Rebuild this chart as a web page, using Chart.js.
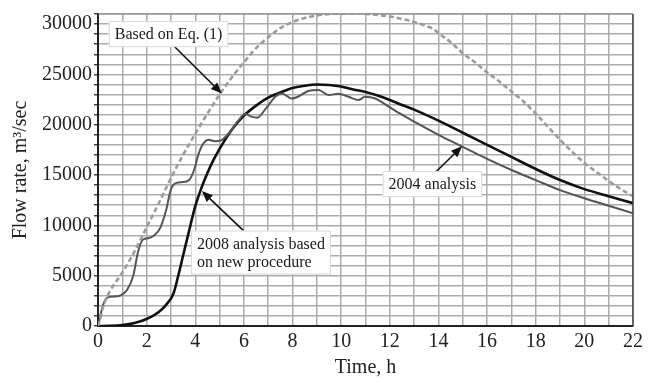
<!DOCTYPE html>
<html><head><meta charset="utf-8">
<script src="https://cdn.jsdelivr.net/npm/chart.js@4/dist/chart.umd.min.js"></script>
<style>html,body{margin:0;padding:0;background:#fff}#wrap{width:657px;height:380px}</style>
</head><body><div id="wrap"><canvas id="c" width="657" height="380"></canvas></div>
<script>
// ---- Data ----
const eqTime = [0,0.1,0.2,0.35,0.6,1,1.5,2,2.5,3,3.5,4,4.5,5,5.5,6,6.5,7,7.5,8,8.5,9,9.5,10,10.5,11,11.5,12,12.5,13,13.5,13.8,14,14.5,15,15.5,16,16.5,17,17.5,18,18.5,19,19.5,20,20.5,21,21.5,22];
const eqFlow = [0,800,1800,2800,3900,5300,7400,9800,12200,14700,17000,19100,21100,23000,24700,26200,27600,28700,29600,30200,30600,30850,31000,31050,31050,31000,30900,30750,30500,30200,29800,29500,29100,28200,27100,26200,25200,24300,23300,22300,21100,19800,18500,17300,16200,15300,14400,13600,12900];

const a2004Time = [0,0.15,0.3,0.5,0.8,1.0,1.2,1.45,1.65,1.85,2.1,2.3,2.55,2.8,3.0,3.2,3.5,3.75,3.95,4.15,4.35,4.55,4.8,5.1,5.4,5.8,6.05,6.3,6.55,6.9,7.3,7.56,7.97,8.24,8.6,9.07,9.48,9.89,10.3,10.71,10.99,11.4,11.95,12.5,13,14,15,16,17,18,19,20,21,22];
const a2004Flow = [0,1600,2600,2900,2950,3150,3600,5000,7400,8600,8750,9000,9700,11500,13600,14200,14300,14500,15500,17200,18200,18500,18350,18500,19200,20500,21100,20800,20700,21600,22800,23100,22600,22800,23300,23440,22950,23080,22780,22450,22780,22600,21800,21000,20300,19000,17800,16600,15500,14500,13500,12700,11950,11200];

const a2008Time = [0,0.5,1,1.5,2,2.5,2.8,3.1,3.3,3.5,3.75,4,4.25,4.5,4.75,5,5.5,6,6.5,7,7.5,8,8.5,9,9.5,10,10.5,11,11.5,12,12.5,13,14,15,16,17,18,19,20,21,22];
const a2008Flow = [0,20,100,300,700,1400,2100,3200,5000,7000,9500,11900,13700,15200,16500,17600,19500,20900,21900,22700,23200,23650,23870,24000,23950,23800,23500,23250,22900,22450,21950,21500,20400,19200,18000,16800,15600,14500,13600,12900,12200];

const xTicks = [0,2,4,6,8,10,12,14,16,18,20,22];
const yTicks = [0,5000,10000,15000,20000,25000,30000];

// annotation labels, arrow start and arrow tip (data units)
const noteText = [["Based on Eq. (1)"], ["2008 analysis based","on new procedure"], ["2004 analysis"]];
const noteAt   = [[2.9, 29000], [6.7, 7300], [13.75, 14100]];
const arrowFrom = [[3.03, 28040], [5.98, 9470], [13.87, 15250]];
const arrowTo   = [[5.09, 23100], [4.27, 13410], [14.97, 17850]];

function pts(t, v){ return t.map((x,i)=>({x:x, y:v[i]})); }

const SERIF = "'Liberation Serif','Times New Roman',serif";

const framePlugin = {
  id:'frame',
  beforeDraw(chart){
    const ctx = chart.ctx; ctx.save(); ctx.fillStyle='#fff'; ctx.fillRect(0,0,chart.width,chart.height); ctx.restore();
  },
  afterDraw(chart){
    const {ctx, chartArea:a, scales} = chart;
    const xs = scales.x, ys = scales.y;
    ctx.save();
    // right & top frame
    ctx.strokeStyle='#444'; ctx.lineWidth=1.5;
    ctx.beginPath(); ctx.moveTo(a.right, a.top); ctx.lineTo(a.right, a.bottom); ctx.stroke();
    ctx.strokeStyle='#888'; ctx.lineWidth=1.2;
    ctx.beginPath(); ctx.moveTo(a.left, a.top); ctx.lineTo(a.right, a.top); ctx.stroke();
    // arrows
    for (let i=0;i<arrowFrom.length;i++){
      const x1=xs.getPixelForValue(arrowFrom[i][0]), y1=ys.getPixelForValue(arrowFrom[i][1]);
      const x2=xs.getPixelForValue(arrowTo[i][0]), y2=ys.getPixelForValue(arrowTo[i][1]);
      const ang=Math.atan2(y2-y1,x2-x1), L=11, W=4.5;
      const bx=x2-L*Math.cos(ang), by=y2-L*Math.sin(ang);
      ctx.strokeStyle='#111'; ctx.fillStyle='#111'; ctx.lineWidth=1.6;
      ctx.beginPath(); ctx.moveTo(x1,y1); ctx.lineTo(bx,by); ctx.stroke();
      ctx.beginPath(); ctx.moveTo(x2,y2);
      ctx.lineTo(bx+W*Math.sin(ang), by-W*Math.cos(ang));
      ctx.lineTo(bx-W*Math.sin(ang), by+W*Math.cos(ang));
      ctx.closePath(); ctx.fill();
    }
    // label boxes
    ctx.font = "16px " + SERIF;
    ctx.textBaseline='middle'; ctx.textAlign='left';
    for (let i=0;i<noteText.length;i++){
      const lines = noteText[i];
      const cx=xs.getPixelForValue(noteAt[i][0]), cy=ys.getPixelForValue(noteAt[i][1]);
      const w=Math.max(...lines.map(s=>ctx.measureText(s).width));
      const lh=18, h=lines.length*lh;
      const padX=6, padY=4;
      const bx=cx-w/2-padX, by=cy-h/2-padY, bw=w+2*padX, bh=h+2*padY;
      ctx.fillStyle='#fff'; ctx.fillRect(bx,by,bw,bh);
      ctx.strokeStyle='#d8d8d8'; ctx.lineWidth=1; ctx.strokeRect(bx+0.5,by+0.5,bw-1,bh-1);
      ctx.fillStyle='#1a1a1a';
      lines.forEach((s,k)=>ctx.fillText(s, cx-w/2, cy-h/2+lh/2+k*lh+1));
    }
    ctx.restore();
  }
};

new Chart(document.getElementById('c'), {
  type:'line',
  data:{ datasets:[
    {label:'Based on Eq. (1)', data:pts(eqTime,eqFlow), borderColor:'#9c9c9c', borderWidth:2.6, borderDash:[5,3], pointRadius:0, cubicInterpolationMode:'monotone', fill:false},
    {label:'2004 analysis', data:pts(a2004Time,a2004Flow), borderColor:'#555', borderWidth:2, pointRadius:0, cubicInterpolationMode:'monotone', fill:false},
    {label:'2008 analysis', data:pts(a2008Time,a2008Flow), borderColor:'#111', borderWidth:2.6, pointRadius:0, cubicInterpolationMode:'monotone', fill:false}
  ]},
  options:{
    responsive:false, animation:false, devicePixelRatio:1,
    layout:{padding:{top:12,right:24,left:0,bottom:0}},
    plugins:{legend:{display:false}, tooltip:{enabled:false}},
    scales:{
      x:{type:'linear', min:0, max:22,
        afterFit(s){ s.height=54; },
        ticks:{stepSize:1, autoSkip:false, maxRotation:0, padding:4, color:'#222', font:{family:SERIF,size:20},
          callback:(v)=> xTicks.includes(v) ? String(v) : ''},
        grid:{color:'#ababab', lineWidth:1.5, drawTicks:false},
        border:{color:'#222', width:2},
        title:{display:true, text:'Time, h', color:'#222', font:{family:SERIF,size:20}, padding:{top:0,bottom:0}}
      },
      y:{min:0, max:31000,
        afterFit(s){ s.width=98; },
        ticks:{stepSize:1000, autoSkip:false, padding:2, color:'#222', font:{family:SERIF,size:20},
          callback:(v)=> yTicks.includes(v) ? String(v) : ''},
        grid:{color:'#ababab', lineWidth:1.5, drawTicks:true, tickLength:4, tickColor:'#444'},
        border:{color:'#222', width:2},
        title:{display:true, text:'Flow rate, m³/sec', color:'#222', font:{family:SERIF,size:20}, padding:{top:9,bottom:0}}
      }
    }
  },
  plugins:[framePlugin]
});
</script></body></html>
